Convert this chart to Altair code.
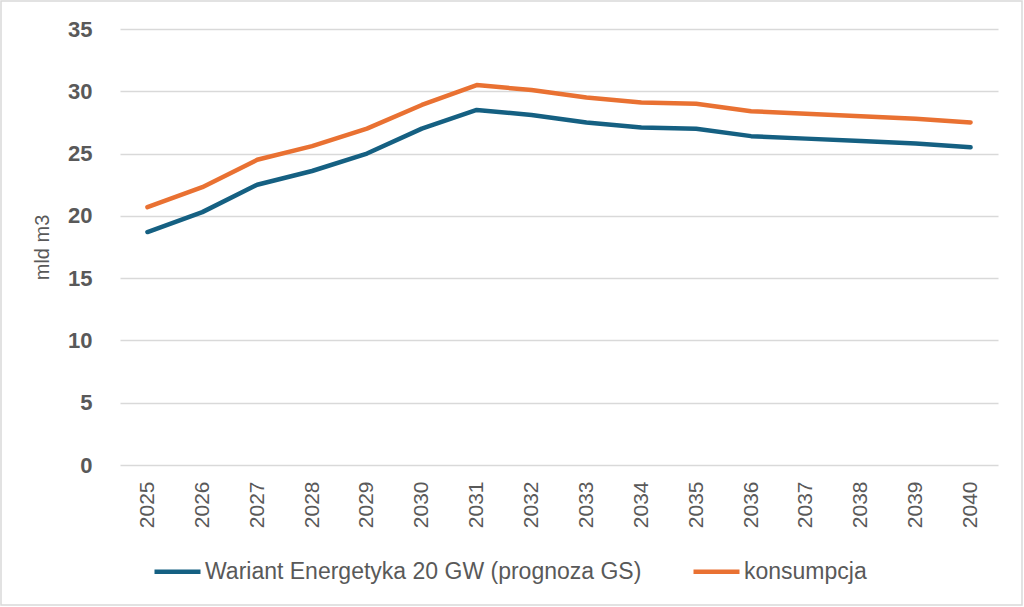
import altair as alt
import pandas as pd

years = [str(y) for y in range(2025, 2041)]
wariant = [18.7, 20.3, 22.5, 23.6, 25.0, 27.0, 28.5, 28.1, 27.5, 27.1, 27.0, 26.4, 26.2, 26.0, 25.8, 25.5]
konsumpcja = [20.7, 22.3, 24.5, 25.6, 27.0, 28.9, 30.5, 30.1, 29.5, 29.1, 29.0, 28.4, 28.2, 28.0, 27.8, 27.5]

series_names = ["Wariant Energetyka 20 GW (prognoza GS)", "konsumpcja"]
series_colors = ["#156082", "#E97132"]

rows = []
for name, vals in zip(series_names, [wariant, konsumpcja]):
    for yr, v in zip(years, vals):
        rows.append({"rok": yr, "wartosc": v, "seria": name})
df = pd.DataFrame(rows)

W, H = 878, 436
PAD = {"left": 120, "top": 29, "right": 26, "bottom": 142}

lines = alt.Chart(df).mark_line(strokeWidth=4.5, strokeCap="round", strokeJoin="round").encode(
    x=alt.X("rok:O", sort=years,
            scale=alt.Scale(type="point", padding=0.5),
            axis=alt.Axis(title=None, labelAngle=-90, labelFontSize=21,
                          labelColor="#595959", labelFont="Liberation Sans",
                          labelPadding=16, ticks=False, domain=False, grid=False)),
    y=alt.Y("wartosc:Q", scale=alt.Scale(domain=[0, 35], nice=False),
            axis=alt.Axis(title="mld m3", values=[0, 5, 10, 15, 20, 25, 30, 35],
                          labelFontSize=22, labelFontWeight="bold", labelColor="#595959",
                          labelFont="Liberation Sans", labelPadding=28,
                          titleFontSize=20, titleFontWeight="normal", titleColor="#595959",
                          titleFont="Liberation Sans", titlePadding=15,
                          ticks=False, domain=False, grid=True,
                          gridColor="#d9d9d9", gridWidth=1.5)),
    color=alt.Color("seria:N",
                    scale=alt.Scale(domain=series_names, range=series_colors),
                    legend=alt.Legend(title=None, orient="none", legendX=32, legendY=81 + H,
                                      direction="horizontal", symbolType="stroke",
                                      symbolSize=2116, symbolStrokeWidth=4.5,
                                      labelFontSize=23, labelColor="#595959",
                                      labelFont="Liberation Sans", labelOffset=2,
                                      labelLimit=0, columnPadding=42)),
)

# thin frame around the whole figure
frame = alt.Chart(pd.DataFrame({"k": [0]})).mark_rect(
    fill=None, stroke="#d9d9d9", strokeWidth=1.5
).encode(
    x=alt.value(-PAD["left"] + 1), x2=alt.value(W + PAD["right"] - 2),
    y=alt.value(-PAD["top"] + 1), y2=alt.value(H + PAD["bottom"] - 2),
)

chart = alt.layer(frame, lines).properties(
    width=W, height=H,
    autosize=alt.AutoSizeParams(type="none"),
    padding=PAD,
    background="white",
).configure_view(stroke=None)

chart.save("out.html", embed_options={"renderer": "svg", "actions": False})
